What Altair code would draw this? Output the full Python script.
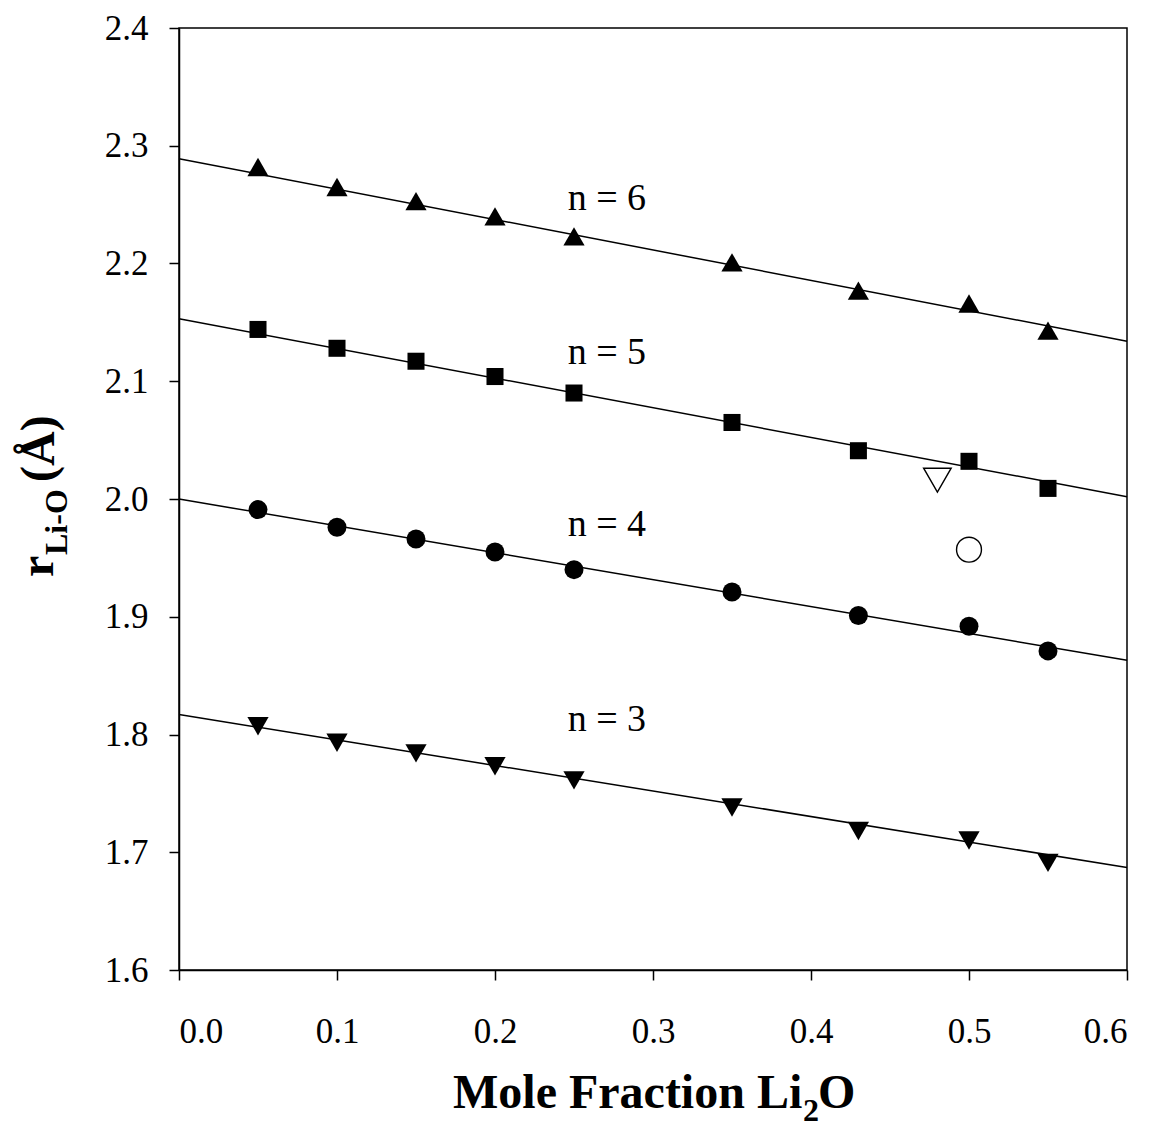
import altair as alt
import pandas as pd

# ---------------- data ----------------
mole_fraction = [0.05, 0.10, 0.15, 0.20, 0.25, 0.35, 0.43, 0.50, 0.55]

r_n6 = [2.282, 2.265, 2.253, 2.240, 2.223, 2.201, 2.177, 2.166, 2.143]
r_n5 = [2.144, 2.128, 2.117, 2.104, 2.090, 2.065, 2.041, 2.032, 2.009]
r_n4 = [1.991, 1.976, 1.966, 1.955, 1.940, 1.921, 1.901, 1.892, 1.871]
r_n3 = [1.807, 1.793, 1.784, 1.773, 1.761, 1.738, 1.718, 1.710, 1.691]

series_names = ["n = 6", "n = 5", "n = 4", "n = 3"]
series_shapes = ["triangle-up", "square", "circle", "triangle-down"]
series_sizes = [450, 290, 360, 450]

# fitted lines: value at x = 0 and x = 0.6
fit_x = [0.0, 0.6]
fit_start = [2.289, 2.153, 2.000, 1.817]
fit_end = [2.134, 2.002, 1.863, 1.687]

# open symbols
open_tri_x = [0.48]
open_tri_y = [2.016]
open_circ_x = [0.50]
open_circ_y = [1.957]

# n-labels
label_text = ["n = 6", "n = 5", "n = 4", "n = 3"]
label_x = [0.246, 0.246, 0.246, 0.246]
label_y = [2.2454, 2.115, 1.969, 1.803]

x_ticks = [0.0, 0.1, 0.2, 0.3, 0.4, 0.5, 0.6]
y_ticks = [1.6, 1.7, 1.8, 1.9, 2.0, 2.1, 2.2, 2.3, 2.4]

# ---------------- tables ----------------
series_vals = [r_n6, r_n5, r_n4, r_n3]
pts = pd.DataFrame(
    [
        {"x": xv, "y": yv, "series": name}
        for name, vals in zip(series_names, series_vals)
        for xv, yv in zip(mole_fraction, vals)
    ]
)
lines = pd.DataFrame(
    [
        {"x": fit_x[i], "y": (s if i == 0 else e), "series": name}
        for name, s, e in zip(series_names, fit_start, fit_end)
        for i in range(2)
    ]
)
open_tri = pd.DataFrame({"x": open_tri_x, "y": open_tri_y})
open_circ = pd.DataFrame({"x": open_circ_x, "y": open_circ_y})
labels = pd.DataFrame({"x": label_x, "y": label_y, "t": label_text})

FONT = "Liberation Serif"

xs = alt.Scale(domain=[0, 0.6], nice=False, zero=False)
ys = alt.Scale(domain=[1.6, 2.4], nice=False, zero=False)

x_enc = alt.X(
    "x:Q",
    scale=xs,
    axis=alt.Axis(values=x_ticks, format=".1f", title=None, labelPadding=34),
)
y_enc = alt.Y(
    "y:Q",
    scale=ys,
    axis=alt.Axis(values=y_ticks, format=".1f", title=None, labelPadding=21),
)

line_layer = (
    alt.Chart(lines)
    .mark_line(color="black", strokeWidth=1.5)
    .encode(x=x_enc, y=y_enc, detail="series:N")
)

point_layers = []
for name, shp, sz in zip(series_names, series_shapes, series_sizes):
    point_layers.append(
        alt.Chart(pts)
        .transform_filter(alt.datum.series == name)
        .mark_point(filled=True, color="black", opacity=1, shape=shp, size=sz)
        .encode(x="x:Q", y="y:Q")
    )

open_tri_layer = (
    alt.Chart(open_tri)
    .mark_point(filled=False, color="black", strokeWidth=1.4, opacity=1,
                shape="triangle-down", size=760)
    .encode(x="x:Q", y="y:Q")
)
open_circ_layer = (
    alt.Chart(open_circ)
    .mark_point(filled=False, color="black", strokeWidth=1.4, opacity=1,
                shape="circle", size=620)
    .encode(x="x:Q", y="y:Q")
)

label_layer = (
    alt.Chart(labels)
    .mark_text(font=FONT, fontSize=38, align="left", baseline="alphabetic", color="black")
    .encode(x="x:Q", y="y:Q", text="t:N")
)

one = pd.DataFrame({"d": [0]})


def free_text(txt, px, py, size, angle=0):
    return (
        alt.Chart(one)
        .mark_text(
            text=txt,
            font=FONT,
            fontSize=size,
            fontWeight="bold",
            align="left",
            baseline="alphabetic",
            angle=angle,
            color="black",
        )
        .encode(x=alt.value(px), y=alt.value(py))
    )


x_title = (
    free_text("Mole Fraction Li", 274, 1080, 48)
    + free_text("2", 624, 1093, 32)
    + free_text("O", 639, 1080, 48)
)
y_title = (
    free_text("r", -126, 549, 48, 270)
    + free_text("Li-O", -112, 527, 32, 270)
    + free_text("(\u00c5)", -125, 454, 48, 270)
)

chart = (
    alt.layer(line_layer, *point_layers, open_tri_layer, open_circ_layer,
              label_layer, x_title, y_title)
    .properties(
        width=948,
        height=942,
        autosize=alt.AutoSizeParams(type="none"),
        padding={"left": 179, "top": 28, "right": 31, "bottom": 157},
        background="white",
    )
    .configure_view(stroke="black", strokeWidth=1.5)
    .configure_axis(
        grid=False,
        domainColor="black",
        domainWidth=1.5,
        tickColor="black",
        tickWidth=1.5,
        tickSize=10,
        labelFont=FONT,
        labelFontSize=35,
        labelColor="black",
    )
)

chart.save("out.html", embed_options={"renderer": "svg", "actions": False})
